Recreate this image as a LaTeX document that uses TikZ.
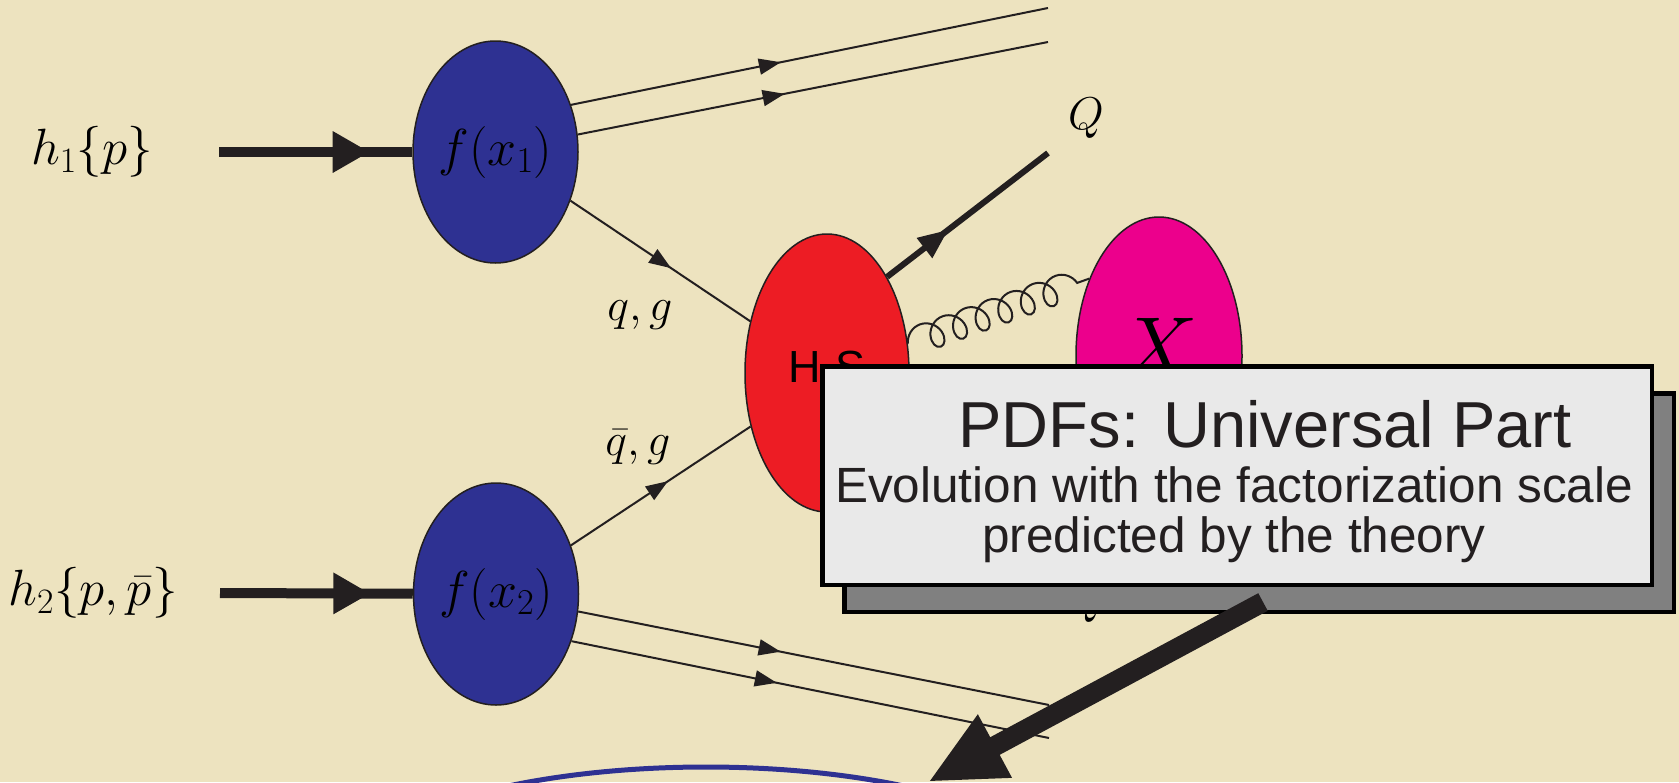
\RequirePackage{fix-cm}
\documentclass[tikz,border=0pt]{standalone}
\usepackage{fontspec}
\newfontfamily\helv{Liberation Sans}
\usepackage{tikz}
\usetikzlibrary{shapes.geometric, arrows.meta, decorations.markings, decorations.pathmorphing, shadows}
\definecolor{parchment}{RGB}{237,227,191}
\definecolor{pdfblue}{RGB}{46,49,146}
\definecolor{hsred}{RGB}{237,28,36}
\definecolor{xmagenta}{RGB}{236,0,140}
\definecolor{inkblack}{RGB}{35,31,32}
\definecolor{panelgray}{RGB}{233,233,233}
\definecolor{shadowgray}{RGB}{128,128,128}

\begin{document}
\begin{tikzpicture}[x=1pt, y=-1pt,
  blob/.style={ellipse, draw=inkblack, line width=1.5pt, inner sep=0pt, font=\fontsize{52}{60}\selectfont},
  mathlbl/.style={font=\fontsize{46}{55}\selectfont},
  fermion/.style={color=inkblack, line width=2pt},
  heavy/.style={color=inkblack, line width=6pt},
  beam/.style={color=inkblack, line width=10pt},
  gluon/.style={color=inkblack, line width=2pt, decorate, decoration={coil, amplitude=14pt, segment length=24pt, aspect=0.85}},
  midtip/.style 2 args={postaction={decorate}, decoration={markings, mark=at position #1 with {\arrow{#2}}}},
  thin tip/.tip={Triangle[length=22pt,width=16pt]},
  heavy tip/.tip={Triangle[length=30pt,width=24pt]},
  beam tip/.tip={Triangle[length=37pt,width=39pt]},
  panel/.style={rectangle, fill=panelgray, draw=black, line width=4.5pt, minimum width=829.5pt, minimum height=218.5pt,
    drop shadow={shadow xshift=22pt, shadow yshift=-27pt, fill=shadowgray, draw=black, line width=4.5pt, opacity=1}},
  paneltext/.style={text=inkblack, anchor=base, inner sep=0pt}
]
\useasboundingbox (0,0) rectangle (1679,782);
\clip (0,0) rectangle (1679,782);
\fill[parchment] (0,0) rectangle (1679,782);

\node[blob, fill=pdfblue, minimum width=165pt, minimum height=222pt] (fone) at (495.5,152) {$f(x_1)$};
\node[blob, fill=pdfblue, minimum width=165pt, minimum height=222pt] (ftwo) at (496,594) {$f(x_2)$};
\node[blob, fill=hsred, minimum width=164pt, minimum height=278pt, text depth=12pt, font=\helv\fontsize{45}{54}\selectfont] (hs) at (827,373) {H\kern14pt S};
\node[blob, fill=xmagenta, minimum width=166pt, minimum height=278pt, text depth=16pt, font=\fontsize{88}{100}\selectfont] (xs) at (1159,356) {$X$};

\node[mathlbl, font=\fontsize{51}{60}\selectfont] (hone) at (92,152) {$h_1\{p\}$};
\node[mathlbl, font=\fontsize{51}{60}\selectfont] (htwo) at (93,593) {$h_2\{p,\bar{p}\}$};
\node[mathlbl] (qglab) at (640,315) {$q,g$};
\node[mathlbl] (qbglab) at (638,447) {$\bar{q},g$};
\node[mathlbl] (qlab) at (1086,118) {$Q$};
\node[mathlbl, anchor=base] (qbarlab) at (1085,613) {$\bar{Q}$};

\coordinate (beamone) at (219,152);
\coordinate (beamtwo) at (220,593);
\coordinate (remone) at (1048,8);
\coordinate (remtwo) at (1048,42);
\coordinate (remthree) at (1049,705);
\coordinate (remfour) at (1049,738);
\coordinate (qend) at (1048,153);
\coordinate (bigfrom) at (1263,602);
\coordinate (bigto) at (928,782);

\draw[beam, midtip={0.78}{beam tip}] (beamone) -- (fone);
\draw[beam, midtip={0.78}{beam tip}] (beamtwo) -- (ftwo);
\draw[fermion, midtip={0.44}{thin tip}] (fone.32) -- (remone);
\draw[fermion, midtip={0.44}{thin tip}] (fone.12) -- (remtwo);
\draw[fermion, midtip={0.56}{thin tip}] (fone.-33) -- (hs.146);
\draw[fermion, midtip={0.54}{thin tip}] (ftwo.33) -- (hs.215);
\draw[fermion, midtip={0.43}{thin tip}] (ftwo.-12) -- (remthree);
\draw[fermion, midtip={0.43}{thin tip}] (ftwo.-32) -- (remfour);
\draw[heavy, midtip={0.38}{heavy tip}] (hs.58) -- (qend);
\draw[gluon] (hs.20) -- (xs.132);

\draw[pdfblue, line width=5pt] (706,897) ellipse [x radius=380, y radius=130];

\node[panel] (pdfpanel) at (1237,475.5) {};
\node[paneltext, font=\helv\fontsize{65}{70}\selectfont] (pdftitle) at (1265,447) {PDFs: Universal Part};
\node[paneltext, font=\helv\fontsize{49.5}{50}\selectfont] (pdfnote) at (1234,502) {Evolution with the factorization scale};
\node[paneltext, font=\helv\fontsize{49.5}{50}\selectfont] (pdfnotetwo) at (1234,552) {predicted by the theory};

\draw[inkblack, line width=20pt, -{Triangle[length=76pt,width=66pt]}] (bigfrom) -- (bigto);
\end{tikzpicture}
\end{document}
